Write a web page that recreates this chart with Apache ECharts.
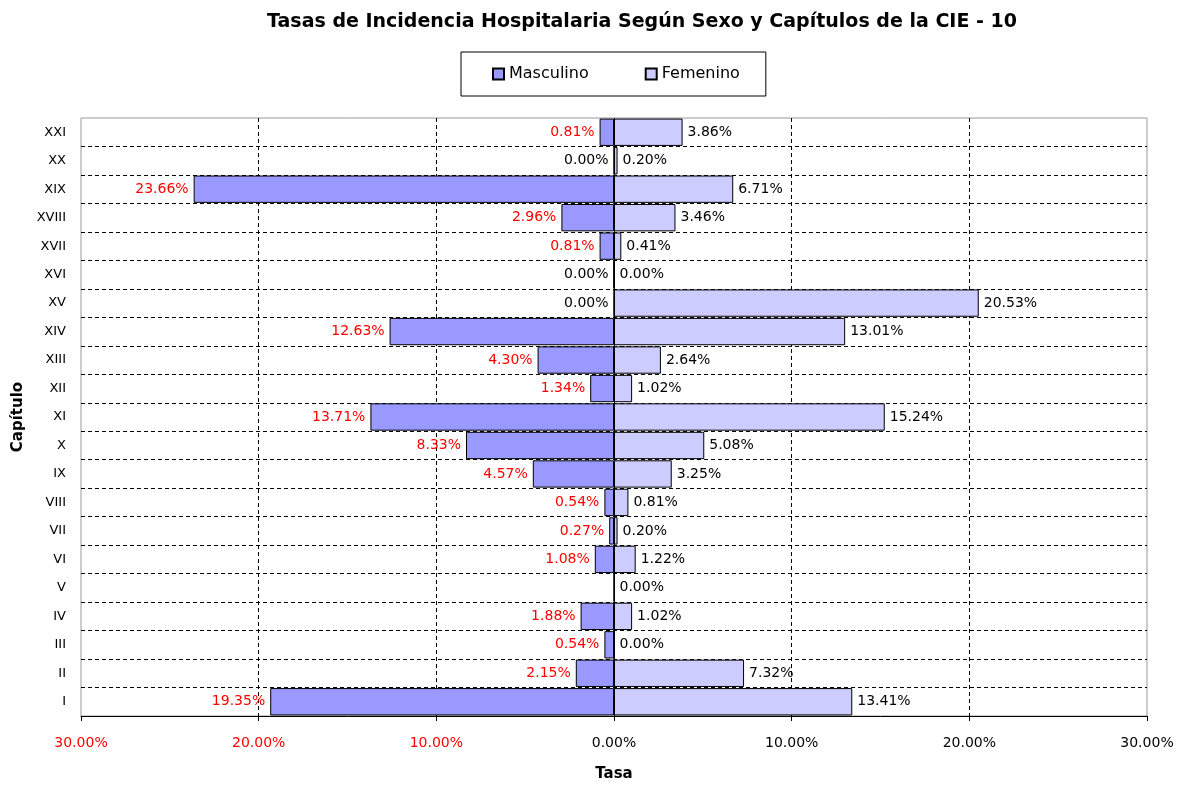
<!DOCTYPE html>
<html>
<head>
<meta charset="utf-8">
<script src="https://cdn.jsdelivr.net/npm/echarts@6/dist/echarts.min.js"></script>
<style>html,body{margin:0;padding:0;background:#fff;}#c{width:1185px;height:787px;}</style>
</head>
<body>
<div id="c"></div>
<script>
const categories = ['I','II','III','IV','V','VI','VII','VIII','IX','X','XI','XII','XIII','XIV','XV','XVI','XVII','XVIII','XIX','XX','XXI'];
const masculino = [19.35, 2.15, 0.54, 1.88, null, 1.08, 0.27, 0.54, 4.57, 8.33, 13.71, 1.34, 4.30, 12.63, 0.00, 0.00, 0.81, 2.96, 23.66, 0.00, 0.81];
const femenino = [13.41, 7.32, 0.00, 1.02, 0.00, 1.22, 0.20, 0.81, 3.25, 5.08, 15.24, 1.02, 2.64, 13.01, 20.53, 0.00, 0.41, 3.46, 6.71, 0.20, 3.86];
const xTicks = [-30, -20, -10, 0, 10, 20, 30];

const FONT = 'DejaVu Sans';
const chart = echarts.init(document.getElementById('c'));
const dash = { color: '#000', width: 1, type: [4, 3] };

chart.setOption({
  animation: false,
  backgroundColor: '#fff',
  title: {
    text: 'Tasas de Incidencia Hospitalaria Según Sexo y Capítulos de la CIE - 10',
    left: 262, top: 8,
    textStyle: { fontFamily: FONT, fontWeight: 'bold', fontSize: 19, color: '#000' }
  },
  legend: {
    left: 461, top: 52,
    icon: 'rect', itemWidth: 11, itemHeight: 11, itemGap: 56,
    borderColor: '#000', borderWidth: 1,
    padding: [14, 26, 14, 31],
    textStyle: { fontFamily: FONT, fontSize: 16, color: '#000' },
    data: ['Masculino', 'Femenino']
  },
  grid: {
    left: 81, right: 38, top: 118, bottom: 67,
    show: true, borderColor: '#999', borderWidth: 1, backgroundColor: 'transparent'
  },
  xAxis: {
    type: 'value', min: xTicks[0], max: xTicks[xTicks.length - 1], interval: 10,
    name: 'Tasa', nameLocation: 'middle', nameGap: 51,
    nameTextStyle: { fontFamily: FONT, fontWeight: 'bold', fontSize: 15, color: '#000' },
    axisLine: { show: true, lineStyle: { color: '#000', width: 1 } },
    axisTick: { show: true, length: 5, lineStyle: { color: '#000' } },
    axisLabel: {
      margin: 20, fontFamily: FONT, fontSize: 14,
      color: v => (v < 0 ? '#ff0000' : '#000'),
      formatter: v => Math.abs(v).toFixed(2) + '%'
    },
    splitLine: { show: true, showMinLine: false, showMaxLine: false, lineStyle: dash }
  },
  yAxis: {
    type: 'category', data: categories, boundaryGap: true,
    name: 'Capítulo', nameLocation: 'middle', nameGap: 54, nameRotate: 90,
    nameTextStyle: { fontFamily: FONT, fontWeight: 'bold', fontSize: 15, color: '#000' },
    axisLine: { show: false },
    axisTick: { show: false },
    axisLabel: { margin: 15, fontFamily: FONT, fontSize: 13, color: '#000' },
    splitLine: { show: true, showMinLine: false, showMaxLine: false, lineStyle: dash }
  },
  series: [
    {
      name: 'Masculino', type: 'bar',
      data: masculino.map(v => (v === null ? null : -v)),
      barWidth: '96%', barGap: '-100%',
      itemStyle: { color: '#9999ff', borderColor: '#000', borderWidth: 1 },
      label: {
        show: true, position: 'left', distance: 5,
        fontFamily: FONT, fontSize: 14,
        formatter: p => (p.value === 0 ? '{z|0.00%}' : '{r|' + Math.abs(p.value).toFixed(2) + '%}'),
        rich: {
          z: { fontFamily: FONT, fontSize: 14, color: '#000' },
          r: { fontFamily: FONT, fontSize: 14, color: '#ff0000' }
        }
      },
      markLine: {
        silent: true, symbol: 'none',
        lineStyle: { color: '#000', width: 1, type: 'solid' },
        label: { show: false },
        data: [{ xAxis: 0 }]
      }
    },
    {
      name: 'Femenino', type: 'bar',
      data: femenino,
      barWidth: '96%',
      itemStyle: { color: '#ccccff', borderColor: '#000', borderWidth: 1 },
      label: {
        show: true, position: 'right', distance: 5,
        fontFamily: FONT, fontSize: 14, color: '#000',
        formatter: p => p.value.toFixed(2) + '%'
      }
    }
  ]
});
</script>
</body>
</html>
